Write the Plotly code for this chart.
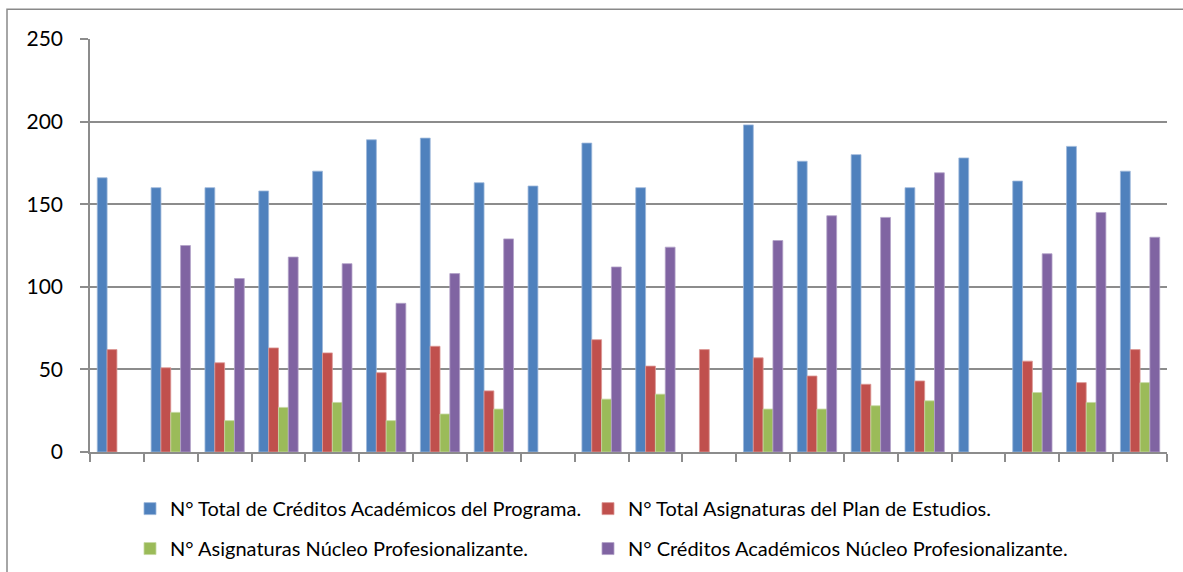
import plotly.graph_objects as go

# Twenty programmes, shown without category labels on the x axis
programas = [f"P{i}" for i in range(1, 21)]

creditos_totales = [166, 160, 160, 158, 170, 189, 190, 163, 161, 187,
                    160, None, 198, 176, 180, 160, 178, 164, 185, 170]
asignaturas_totales = [62, 51, 54, 63, 60, 48, 64, 37, None, 68,
                       52, 62, 57, 46, 41, 43, None, 55, 42, 62]
asignaturas_nucleo = [None, 24, 19, 27, 30, 19, 23, 26, None, 32,
                      35, None, 26, 26, 28, 31, None, 36, 30, 42]
creditos_nucleo = [None, 125, 105, 118, 114, 90, 108, 129, None, 112,
                   124, None, 128, 143, 142, 169, None, 120, 145, 130]

nombres = [
    "N° Total de Créditos Académicos del Programa.",
    "N° Total Asignaturas del Plan de Estudios.",
    "N° Asignaturas Núcleo Profesionalizante.",
    "N° Créditos Académicos Núcleo Profesionalizante.",
]
colores = ["#4F81BD", "#C0504D", "#9BBB59", "#8064A2"]
bordes = ["#9DB8DA", "#DC9896", "#C6D9A3", "#B3A2C8"]
series = [creditos_totales, asignaturas_totales, asignaturas_nucleo, creditos_nucleo]
leyendas = ["legend", "legend2", "legend3", "legend4"]

FONT = "Lato, Carlito, Calibri, sans-serif"

fig = go.Figure()
for nombre, valores, color, borde, ley in zip(nombres, series, colores, bordes, leyendas):
    fig.add_trace(go.Bar(
        x=programas, y=valores, name=nombre,
        marker=dict(color=color, line=dict(color=borde, width=0.8)),
        legend=ley,
    ))

# plot area in pixels: left 90, right 1167, top 38.7, bottom 452.3
W, H = 1183, 572
L, R, T, B = 90, 1167, 38.7, 452.3
pw, ph = R - L, B - T


def px_x(x):
    return (x - L) / pw


def px_y(y):
    return (B - y) / ph


def legend_at(x, y):
    # one legend box per series, laid out as a 2 x 2 grid below the axis
    return dict(
        x=px_x(x), y=px_y(y), xanchor="left", yanchor="middle",
        orientation="h",
        font=dict(family=FONT, size=20, color="#000000"),
        bgcolor="rgba(0,0,0,0)", itemclick=False, itemdoubleclick=False,
    )


fig.update_layout(
    width=W, height=H,
    margin=dict(l=L, r=W - R, t=T, b=H - B, pad=0, autoexpand=False),
    paper_bgcolor="white", plot_bgcolor="white",
    barmode="group", bargap=0.27, bargroupgap=0.0,
    font=dict(family=FONT, color="#000000"),
    showlegend=True,
    legend=legend_at(130, 509),
    legend2=legend_at(588, 509),
    legend3=legend_at(130, 549),
    legend4=legend_at(588, 549),
    xaxis=dict(
        type="category", showticklabels=False, showgrid=False,
        ticks="outside", ticklen=8, tickwidth=1.5, tickcolor="#8C8C8C",
        tickson="boundaries",
        showline=True, linecolor="#8C8C8C", linewidth=1.5,
        range=[-0.5, 19.5], zeroline=False,
    ),
    yaxis=dict(
        range=[0, 250], dtick=50, tick0=0,
        showgrid=True, gridcolor="#8C8C8C", gridwidth=1.5,
        ticks="outside", ticklen=8, tickwidth=1.5, tickcolor="#8C8C8C",
        showline=True, linecolor="#8C8C8C", linewidth=1.5,
        zeroline=False, ticklabelstandoff=13,
        tickfont=dict(family=FONT, size=21, color="#000000"),
    ),
    shapes=[dict(
        type="rect", xref="paper", yref="paper",
        x0=px_x(7), x1=px_x(W + 10), y0=px_y(H + 10), y1=px_y(9),
        line=dict(color="#898989", width=1.5), fillcolor="rgba(0,0,0,0)",
        layer="below",
    )],
)

fig.write_html("out.html")
